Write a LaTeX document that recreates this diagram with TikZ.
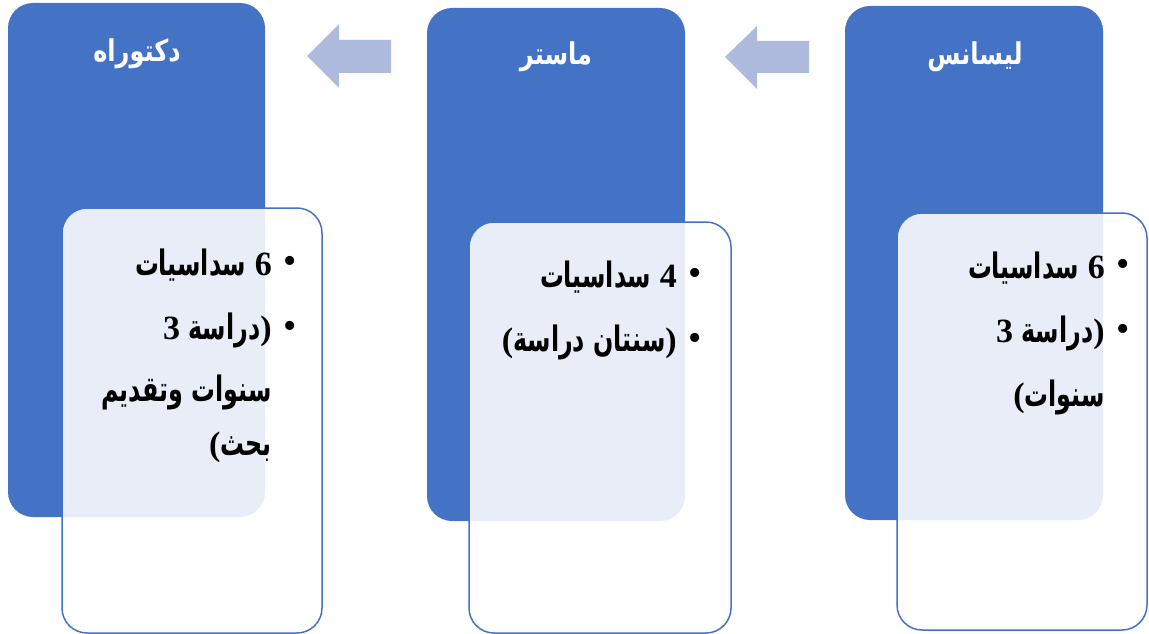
\documentclass[tikz,border=0pt]{standalone}
\usepackage{fontspec}
\setmainfont{Liberation Serif}
\newfontfamily\arabicfont[Script=Arabic,FakeStretch=0.68]{DejaVu Sans}
\newfontfamily\titlefont[Script=Arabic,FakeStretch=0.8]{DejaVu Sans}
\TeXXeTstate=1
\newcommand\ar[1]{{\arabicfont\fontsize{35}{40}\selectfont\bfseries\beginR #1\endR}}
\newcommand\tl[1]{{\titlefont\bfseries\beginR #1\endR}}
\definecolor{mainblue}{RGB}{68,114,196}
\definecolor{arrowblue}{RGB}{174,186,220}
\tikzset{
  levelbox/.style={fill=mainblue, rounded corners=25pt},
  detailbox/.style={fill=white, fill opacity=0.88, draw=mainblue, line width=1.5pt, rounded corners=25pt},
  titletext/.style={text=white, font=\fontsize{30}{34}\selectfont, inner sep=0pt},
  itemtext/.style={text=black, font=\fontsize{34}{40}\selectfont\bfseries, inner sep=0pt, anchor=east},
  bullettext/.style={text=black, font=\fontsize{38}{42}\selectfont, inner sep=0pt},
  blockarrow/.style={fill=arrowblue}
}
\begin{document}
\begin{tikzpicture}[x=1pt,y=-1pt]
\useasboundingbox (0,0) rectangle (1149,634);
% level boxes
\fill[levelbox] (8,3) rectangle (265,517);
\fill[levelbox] (427,8) rectangle (685,521);
\fill[levelbox] (845,6) rectangle (1103,520);
% arrows
\fill[blockarrow] (307,56) -- (339,24) -- (339,40) -- (391,40) -- (391,73) -- (339,73) -- (339,88) -- cycle;
\fill[blockarrow] (725,57) -- (757,26) -- (757,41) -- (809,41) -- (809,73) -- (757,73) -- (757,89) -- cycle;
% titles
\node[titletext] (t1) at (137,54) {\tl{دكتوراه}};
\node[titletext] (t2) at (556,57) {\tl{ماستر}};
\node[titletext] (t3) at (975,57) {\tl{ليسانس}};
% detail boxes
\path[detailbox] (62,208) rectangle (322,633);
\path[detailbox] (469,222) rectangle (731,633);
\path[detailbox] (897,213) rectangle (1147,630);
% left box text
\node[bullettext] (b11) at (290,265) {•};
\node[bullettext] (b12) at (290,330) {•};
\node[itemtext] (l11) at (272,265) {\ar{سداسيات}\ 6};
\node[itemtext] (l12) at (272,330) {3\ \ar{دراسة})};
\node[itemtext] (l13) at (272,392) {\ar{سنوات وتقديم}};
\node[itemtext] (l14) at (272,447) {(\ar{بحث}};
% middle box text
\node[bullettext] (b21) at (695,277) {•};
\node[bullettext] (b22) at (695,342) {•};
\node[itemtext] (l21) at (677,277) {\ar{سداسيات}\ 4};
\node[itemtext] (l22) at (677,342) {(\ar{سنتان دراسة})};
% right box text
\node[bullettext] (b31) at (1123,268) {•};
\node[bullettext] (b32) at (1123,333) {•};
\node[itemtext] (l31) at (1105,268) {\ar{سداسيات}\ 6};
\node[itemtext] (l32) at (1105,333) {3\ \ar{دراسة})};
\node[itemtext] (l33) at (1105,397) {(\ar{سنوات}};
\end{tikzpicture}
\end{document}
